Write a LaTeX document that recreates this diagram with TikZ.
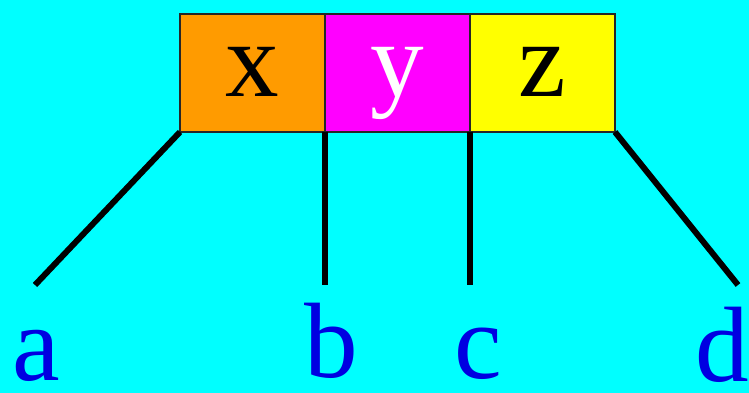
\documentclass[tikz,border=0pt]{standalone}
\usepackage{fontspec}
\setmainfont{Liberation Serif}
\usetikzlibrary{positioning}
\definecolor{bgCyan}{RGB}{0,255,255}
\definecolor{keyOrange}{RGB}{255,155,0}
\definecolor{keyMagenta}{RGB}{255,0,255}
\definecolor{keyYellow}{RGB}{255,255,0}
\definecolor{labelBlue}{RGB}{0,0,225}
\tikzset{
    font=\fontsize{61}{61}\selectfont,
    % Keys
    key/.style={rectangle, draw=black!85, line width=1.6pt, outer sep=0pt,
                minimum width=2.9cm, minimum height=2.36cm,
                text height=0.96cm, text depth=0cm, inner sep=0pt},
    keyOrange/.style={key, fill=keyOrange},
    keyMagenta/.style={key, fill=keyMagenta, text=white},
    keyYellow/.style={key, fill=keyYellow},
    % Children
    child/.style={anchor=base, text=labelBlue, inner sep=0pt},
    edge/.style={line width=3.4pt, black}
}
\begin{document}
\begin{tikzpicture}
\fill[bgCyan] (0,0) rectangle (14.98,7.86);
\useasboundingbox (0,0) rectangle (14.98,7.86);

\node[keyOrange] (kx) at (5.05,6.40) {x};
\node[keyMagenta, right=0pt of kx] (ky) {y};
\node[keyYellow, right=0pt of ky] (kz) {z};

\node[child] (ca) at (0.72,0.24) {a};
\node[child] (cb) at (6.62,0.30) {b};
\node[child] (cc) at (9.56,0.28) {c};
\node[child] (cd) at (14.44,0.22) {d};

\coordinate (ea) at (0.70,2.16);
\coordinate (eb) at (6.50,2.16);
\coordinate (ec) at (9.40,2.16);
\coordinate (ed) at (14.76,2.16);

\draw[edge] (kx.south west) -- (ea);
\draw[edge] (kx.south east) -- (eb);
\draw[edge] (ky.south east) -- (ec);
\draw[edge] (kz.south east) -- (ed);

\end{tikzpicture}
\end{document}
